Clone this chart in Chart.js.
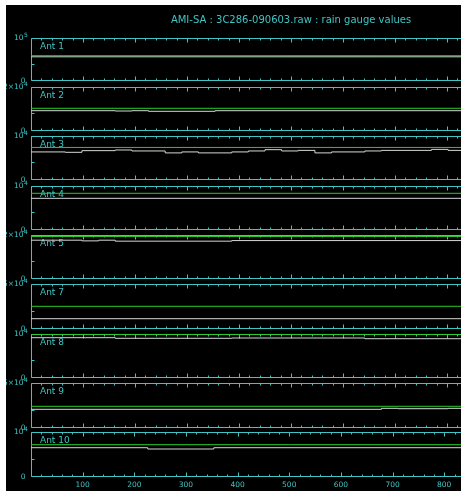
<!DOCTYPE html>
<html>
<head>
<meta charset="utf-8">
<script src="https://cdn.jsdelivr.net/npm/chart.js@4/dist/chart.umd.min.js"></script>
<style>
  html, body { margin: 0; padding: 0; background: #fff; width: 461px; height: 495px; overflow: hidden; }
  #frame { position: absolute; left: 6px; top: 5px; width: 455px; height: 486px; background: #000; overflow: hidden; }
  #frame canvas { position: absolute; left: 0; }
</style>
</head>
<body>
<div id="frame"></div>
<script>
// ---- data ----------------------------------------------------------------
const TITLE = 'AMI-SA : 3C286-090603.raw : rain gauge values';
const antennas = ['Ant 1', 'Ant 2', 'Ant 3', 'Ant 4', 'Ant 5', 'Ant 7', 'Ant 8', 'Ant 9', 'Ant 10'];

// y range of each panel (0 .. yMax) and the labels printed at its top
const yMax = [1e5, 2e4, 1e4, 1e4, 2e4, 5e4, 1e4, 5e4, 1e4];
const yTopBase = ['10', '2×10', '10', '10', '2×10', '5×10', '10', '5×10', '10'];
const yTopExp = ['5', '4', '4', '4', '4', '4', '4', '4', '4'];
const yBottomLabel = '0';

// sample axis
const X_MIN = 0, X_MAX = 1000;
const xTickLabels = ['100', '200', '300', '400', '500', '600', '700', '800'];

// green trace: one constant level per antenna
const greenLevel = [58800, 10320, 7400, 8340, 19330, 25220, 9900, 24110, 7180];

// white trace: [sample where the held value starts, value]
const whiteAnt1 = [[0, 56300]];
const whiteAnt2 = [[0, 9230], [162, 9090], [194, 9230], [226, 8950], [354, 9230]];
const whiteAnt3 = [[0, 6380], [66, 6290], [98, 6670], [162, 6820], [194, 6600], [258, 6160],
                   [290, 6380], [322, 6160], [386, 6380], [418, 6600], [450, 6890], [482, 6600],
                   [514, 6730], [546, 6160], [578, 6380], [642, 6600], [674, 6730], [770, 6960],
                   [802, 6730]];
const whiteAnt4 = [[0, 7200]];
const whiteAnt5 = [[0, 17640], [98, 17330], [130, 17640], [162, 17200], [386, 17470]];
const whiteAnt7 = [[0, 11440]];
const whiteAnt8 = [[0, 9160], [162, 9020], [386, 9090], [642, 8930]];
const whiteAnt9 = [[0, 20780], [674, 21890], [706, 21440], [802, 21890]];
const whiteAnt10 = [[0, 6510], [226, 6220], [354, 6510]];
const whiteSteps = [whiteAnt1, whiteAnt2, whiteAnt3, whiteAnt4, whiteAnt5,
                    whiteAnt7, whiteAnt8, whiteAnt9, whiteAnt10];

// ---- styling / layout ----------------------------------------------------
const AXIS = '#40c4c4';
const GREEN = 'rgb(40,205,40)';
const WHITE = 'rgb(215,215,215)';
const FONT = "'DejaVu Sans', sans-serif";

const FRAME_LEFT = 6, FRAME_TOP = 5, FRAME_BOTTOM = 491;
const PLOT_LEFT = 31, PLOT_RIGHT = 551;
const panelTop = i => Math.round(37.75 + 49.3 * i);
const panelBottom = i => Math.round(81 + 49.5 * i);

Chart.defaults.font.family = FONT;

function stepSeries(steps) {
  const pts = steps.map(([x, y]) => ({ x, y }));
  pts.push({ x: X_MAX, y: steps[steps.length - 1][1] });
  return pts;
}

// frame, inward ticks and panel annotations
const panelDecor = {
  id: 'panelDecor',
  beforeDatasetsDraw(chart, args, opts) {
    const { ctx, chartArea: { left, right, top, bottom }, scales: { x, y } } = chart;
    const L = Math.round(left) + 0.5, T = Math.round(top) + 0.5, B = Math.round(bottom) - 0.5;
    ctx.save();
    ctx.strokeStyle = AXIS;
    ctx.lineWidth = 1;
    ctx.beginPath();
    ctx.moveTo(right, T); ctx.lineTo(L, T); ctx.lineTo(L, B); ctx.lineTo(right, B);
    x.ticks.forEach(t => {
      const px = Math.round(x.getPixelForValue(t.value)) + 0.5;
      const len = t.value % 100 === 0 ? 4 : 2;
      ctx.moveTo(px, T); ctx.lineTo(px, T + len);
      ctx.moveTo(px, B); ctx.lineTo(px, B - len);
    });
    y.ticks.slice(1, -1).forEach(t => {
      const py = Math.round(y.getPixelForValue(t.value)) + 0.5;
      ctx.moveTo(L, py); ctx.lineTo(L + 3, py);
    });
    ctx.stroke();

    ctx.fillStyle = AXIS;
    ctx.textBaseline = 'middle';
    ctx.textAlign = 'left';
    ctx.font = `9px ${FONT}`;
    ctx.fillText(opts.name, left + 9, top + 8.5);

    ctx.font = `7.5px ${FONT}`;
    ctx.textAlign = 'right';
    ctx.fillText(opts.base, left - 7.5, top);
    ctx.fillText(yBottomLabel, left - 5.5, bottom);
    ctx.font = `6px ${FONT}`;
    ctx.textAlign = 'left';
    ctx.fillText(opts.exp, left - 7, top - 3);
    ctx.restore();
  }
};

const frame = document.getElementById('frame');
antennas.forEach((name, i) => {
  const first = i === 0, last = i === antennas.length - 1;
  const cTop = first ? FRAME_TOP : panelTop(i) - 8;
  const cBottom = last ? FRAME_BOTTOM : panelBottom(i) + 8;
  const canvas = document.createElement('canvas');
  canvas.width = PLOT_RIGHT - FRAME_LEFT;
  canvas.height = cBottom - cTop;
  canvas.style.top = (cTop - FRAME_TOP) + 'px';
  frame.appendChild(canvas);

  new Chart(canvas, {
    type: 'line',
    data: {
      datasets: [
        { data: [{ x: X_MIN, y: greenLevel[i] }, { x: X_MAX, y: greenLevel[i] }],
          borderColor: GREEN, borderWidth: 1, pointRadius: 0 },
        { data: stepSeries(whiteSteps[i]), stepped: true,
          borderColor: WHITE, borderWidth: 1, pointRadius: 0 }
      ]
    },
    options: {
      responsive: false,
      devicePixelRatio: 1,
      animation: false,
      events: [],
      layout: { padding: { left: PLOT_LEFT - FRAME_LEFT, right: 0, top: first ? 0 : 8, bottom: last ? 0 : 8 } },
      scales: {
        x: {
          type: 'linear', min: X_MIN, max: X_MAX, display: last,
          grid: { display: false, drawTicks: false }, border: { display: false },
          ticks: {
            stepSize: 20, autoSkip: false, minRotation: 0, maxRotation: 0, padding: 3.5,
            color: AXIS, font: { size: 7.5 },
            callback: v => xTickLabels.includes(String(v)) ? String(v) : ''
          },
          afterFit: s => { if (last) s.height = 14; }
        },
        y: { type: 'linear', min: 0, max: yMax[i], display: false, ticks: { count: 6 } }
      },
      plugins: {
        legend: { display: false },
        tooltip: { enabled: false },
        title: {
          display: first, text: TITLE, color: AXIS, fullSize: false,
          font: { size: 10, weight: 'normal' }, padding: { top: 9, bottom: 12 }
        },
        panelDecor: { name, base: yTopBase[i], exp: yTopExp[i] }
      }
    },
    plugins: [panelDecor]
  });
});
</script>
</body>
</html>
